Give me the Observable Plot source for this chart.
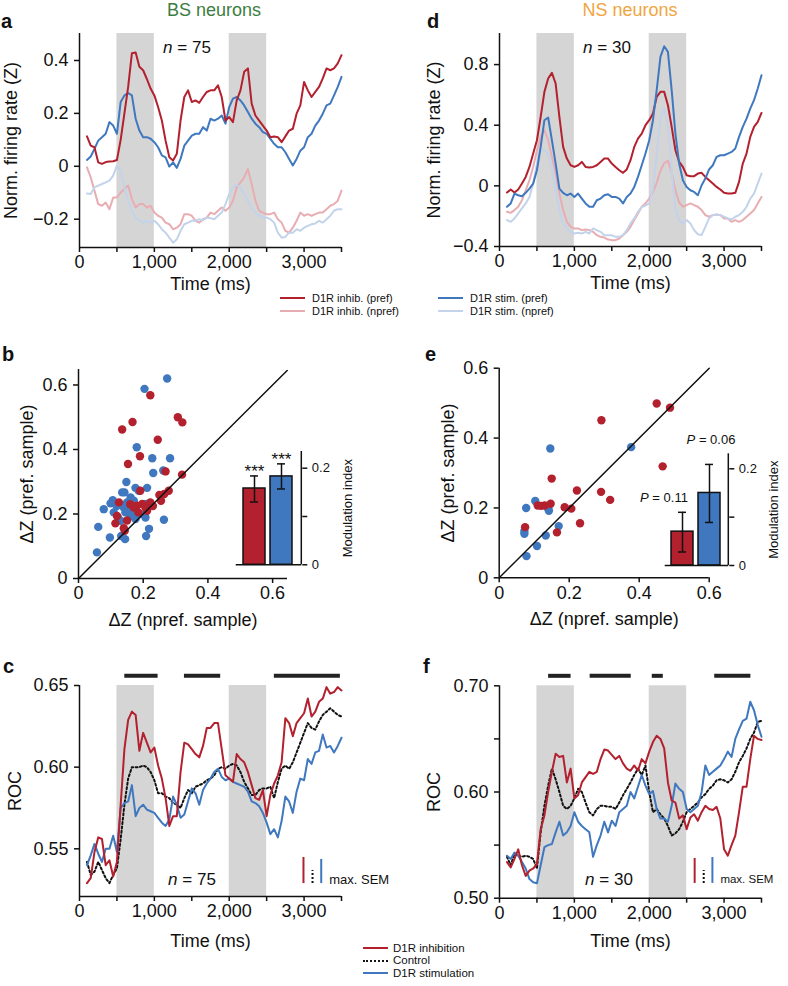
<!DOCTYPE html>
<html><head><meta charset="utf-8">
<script src="https://cdn.jsdelivr.net/npm/d3@7"></script>
<script src="https://cdn.jsdelivr.net/npm/@observablehq/plot@0.6"></script>
<style>
html,body{margin:0;padding:0;background:#fff;}
#fig{position:relative;width:788px;height:986px;font-family:"Liberation Sans",Arial,Helvetica,sans-serif;color:#111;overflow:hidden;background:#fff;}
#fig svg{position:absolute;overflow:visible;}
.t{position:absolute;line-height:1;white-space:nowrap;}
.sw{position:absolute;height:0;}
</style></head><body><div id="fig"></div>
<script>
// ---------------- data ----------------
const times = d3.range(100, 3501, 50);
const stimBands = [[500, 1000], [2000, 2500]];
const timeTicks = [0, 500, 1000, 1500, 2000, 2500, 3000, 3500];

// panel a (BS neurons), normalized firing rate (Z)
const aInhibPref = [0.113,0.078,0.072,0.015,0.009,0.016,0.018,0.019,0.024,0.10,
 0.20,0.30,0.427,0.43,0.376,0.363,0.33,0.294,0.268,0.224,
 0.173,0.097,0.034,0.022,0.047,0.173,0.262,0.287,0.243,0.249,
 0.24,0.262,0.281,0.287,0.287,0.306,0.262,0.173,0.186,0.167,
 0.249,0.287,0.357,0.37,0.237,0.192,0.173,0.154,0.135,0.110,
 0.113,0.110,0.091,0.113,0.135,0.142,0.199,0.23,0.319,0.287,
 0.262,0.281,0.30,0.332,0.37,0.363,0.37,0.389,0.42];
const aStimPref = [0.024,0.037,0.066,0.097,0.110,0.123,0.167,0.154,0.123,0.243,
 0.268,0.277,0.268,0.18,0.135,0.110,0.110,0.104,0.091,0.072,
 0.041,0.034,-0.001,0.015,-0.006,0.028,0.078,0.097,0.116,0.123,
 0.123,0.148,0.135,0.18,0.173,0.18,0.192,0.161,0.224,0.256,
 0.262,0.249,0.23,0.205,0.18,0.161,0.148,0.129,0.123,0.104,
 0.085,0.072,0.072,0.053,0.028,0.003,0.028,0.059,0.072,0.110,
 0.123,0.154,0.173,0.199,0.23,0.237,0.268,0.30,0.338];
const aInhibNpref = [-0.004,-0.042,-0.092,-0.143,-0.149,-0.137,-0.162,-0.118,-0.118,-0.099,
 -0.086,-0.073,-0.124,-0.156,-0.143,-0.143,-0.156,-0.149,-0.175,-0.187,
 -0.194,-0.213,-0.219,-0.238,-0.232,-0.219,-0.181,-0.181,-0.187,-0.206,
 -0.213,-0.2,-0.194,-0.175,-0.181,-0.168,-0.156,-0.168,-0.156,-0.130,
 -0.080,-0.061,-0.042,-0.010,-0.067,-0.130,-0.168,-0.175,-0.181,-0.181,
 -0.175,-0.2,-0.213,-0.244,-0.251,-0.232,-0.206,-0.175,-0.187,-0.181,
 -0.187,-0.181,-0.175,-0.175,-0.162,-0.149,-0.143,-0.130,-0.092];
const aStimNpref = [-0.103,-0.105,-0.080,-0.073,-0.067,-0.061,-0.054,-0.035,0.003,-0.016,
 -0.080,-0.130,-0.168,-0.194,-0.206,-0.213,-0.206,-0.213,-0.206,-0.219,
 -0.238,-0.251,-0.270,-0.289,-0.276,-0.244,-0.219,-0.213,-0.206,-0.206,
 -0.2,-0.204,-0.194,-0.196,-0.2,-0.187,-0.175,-0.143,-0.105,-0.080,
 -0.070,-0.080,-0.105,-0.130,-0.156,-0.175,-0.187,-0.194,-0.194,-0.2,
 -0.213,-0.251,-0.270,-0.267,-0.251,-0.251,-0.238,-0.244,-0.232,-0.225,
 -0.219,-0.216,-0.206,-0.213,-0.2,-0.187,-0.168,-0.162,-0.162];

// panel d (NS neurons)
const dInhibPref = [-0.044,-0.024,-0.044,-0.024,0.015,0.059,0.125,0.213,0.301,0.455,
 0.62,0.708,0.745,0.675,0.455,0.257,0.180,0.136,0.125,0.136,
 0.158,0.125,0.121,0.125,0.136,0.158,0.180,0.180,0.147,0.125,
 0.103,0.086,0.108,0.169,0.257,0.312,0.345,0.40,0.433,0.477,
 0.587,0.62,0.62,0.532,0.389,0.235,0.158,0.125,0.070,0.064,
 0.064,0.081,0.086,0.059,0.037,0.015,-0.007,-0.024,-0.046,-0.051,
 -0.051,-0.046,0.026,0.147,0.213,0.323,0.389,0.422,0.481];
const dStimPref = [-0.138,-0.116,-0.051,-0.062,-0.068,-0.046,-0.018,0.015,0.103,0.257,
 0.433,0.451,0.301,0.147,-0.018,-0.046,-0.062,-0.051,-0.073,-0.051,
 -0.084,-0.116,-0.138,-0.138,-0.095,-0.084,-0.062,-0.055,-0.073,-0.073,
 -0.084,-0.116,-0.073,-0.051,-0.007,0.059,0.136,0.213,0.301,0.433,
 0.631,0.851,0.921,0.884,0.631,0.345,0.147,0.037,-0.007,-0.029,
 -0.040,-0.062,0.004,0.048,0.108,0.136,0.191,0.202,0.202,0.213,
 0.224,0.246,0.323,0.389,0.444,0.51,0.565,0.642,0.730];
const dInhibNpref = [-0.171,-0.178,-0.160,-0.138,-0.095,-0.029,0.037,0.125,0.235,0.323,
 0.367,0.301,0.191,0.081,-0.051,-0.160,-0.237,-0.270,-0.281,-0.281,
 -0.292,-0.288,-0.292,-0.303,-0.325,-0.336,-0.341,-0.354,-0.358,-0.358,
 -0.347,-0.325,-0.303,-0.270,-0.226,-0.182,-0.138,-0.116,-0.084,-0.040,
 0.020,0.100,0.150,0.165,0.090,-0.030,-0.110,-0.138,-0.127,-0.116,
 -0.127,-0.138,-0.160,-0.193,-0.204,-0.193,-0.189,-0.193,-0.215,-0.215,
 -0.237,-0.226,-0.237,-0.226,-0.204,-0.182,-0.160,-0.116,-0.073];
const dStimNpref = [-0.226,-0.237,-0.215,-0.182,-0.149,-0.116,-0.073,0.015,0.147,0.235,
 0.235,0.213,0.103,-0.029,-0.160,-0.248,-0.281,-0.303,-0.314,-0.310,
 -0.314,-0.303,-0.314,-0.281,-0.292,-0.303,-0.325,-0.325,-0.325,-0.336,
 -0.336,-0.325,-0.292,-0.248,-0.215,-0.171,-0.140,-0.130,-0.116,-0.020,
 0.200,0.450,0.510,0.400,0.100,-0.150,-0.230,-0.250,-0.226,-0.248,
 -0.292,-0.319,-0.325,-0.270,-0.215,-0.193,-0.189,-0.193,-0.204,-0.215,
 -0.222,-0.204,-0.193,-0.171,-0.138,-0.084,-0.051,0.015,0.081];

// panel b (BS) scatter: ΔZ npref (x) vs ΔZ pref (y)
const bsInhibX = [0.222,0.307,0.321,0.167,0.135,0.245,0.190,0.153,0.320,0.269,0.279,0.250,0.255,0.222,0.197,0.181,0.171,0.212,0.125,0.119,0.114,0.140,0.143,0.191,0.207,0.160,0.230,0.185,0.150,0.265];
const bsInhibY = [0.568,0.500,0.484,0.485,0.462,0.430,0.379,0.355,0.322,0.332,0.272,0.259,0.241,0.236,0.231,0.226,0.220,0.210,0.236,0.194,0.171,0.156,0.148,0.272,0.220,0.230,0.225,0.205,0.180,0.262];
const bsStimX = [0.274,0.204,0.180,0.228,0.283,0.231,0.262,0.148,0.212,0.176,0.142,0.106,0.099,0.078,0.109,0.122,0.140,0.150,0.161,0.171,0.145,0.161,0.176,0.191,0.209,0.207,0.130,0.218,0.264,0.061,0.097,0.132,0.144,0.209,0.057,0.186,0.135,0.155,0.165,0.118];
const bsStimY = [0.620,0.588,0.407,0.373,0.373,0.327,0.335,0.299,0.281,0.281,0.267,0.243,0.233,0.215,0.205,0.189,0.220,0.236,0.251,0.241,0.205,0.194,0.184,0.200,0.231,0.189,0.179,0.154,0.182,0.160,0.127,0.132,0.122,0.132,0.081,0.272,0.267,0.215,0.200,0.225];
// panel e (NS) scatter
const nsInhibX = [0.450,0.488,0.292,0.467,0.150,0.222,0.291,0.317,0.110,0.130,0.147,0.187,0.206,0.074,0.231,0.165,0.120];
const nsInhibY = [0.499,0.487,0.451,0.319,0.284,0.250,0.246,0.223,0.207,0.207,0.212,0.202,0.198,0.145,0.156,0.130,0.206];
const nsStimX = [0.146,0.377,0.103,0.077,0.142,0.170,0.072,0.072,0.133,0.108,0.078,0.140];
const nsStimY = [0.370,0.374,0.220,0.200,0.192,0.148,0.134,0.126,0.121,0.091,0.062,0.198];

// insets: modulation index (mean, SEM bounds)
const conds = ["D1R inhibition", "D1R stimulation"];
const bsModIdx = [0.158, 0.183], bsModLo = [0.130, 0.157], bsModHi = [0.184, 0.209];
const nsModIdx = [0.070, 0.150], nsModLo = [0.028, 0.089], nsModHi = [0.110, 0.209];
const bsStars = ["***", "***"];

// panel c (BS) ROC
const cInhib = [0.529,0.532,0.548,0.557,0.556,0.540,0.543,0.533,0.542,0.577,
 0.611,0.629,0.634,0.632,0.610,0.621,0.615,0.609,0.612,0.601,
 0.593,0.581,0.564,0.570,0.570,0.597,0.615,0.614,0.611,0.608,
 0.606,0.613,0.624,0.624,0.627,0.627,0.611,0.595,0.593,0.591,
 0.608,0.605,0.603,0.597,0.589,0.581,0.580,0.586,0.570,0.583,
 0.590,0.595,0.603,0.630,0.627,0.619,0.627,0.630,0.633,0.642,
 0.631,0.634,0.640,0.642,0.649,0.645,0.646,0.649,0.647];
const cStim = [0.540,0.546,0.553,0.547,0.542,0.550,0.550,0.558,0.548,0.575,
 0.578,0.579,0.589,0.570,0.575,0.577,0.574,0.573,0.572,0.569,
 0.566,0.564,0.568,0.582,0.577,0.569,0.571,0.579,0.587,0.584,
 0.577,0.586,0.590,0.593,0.597,0.599,0.594,0.592,0.593,0.591,
 0.590,0.589,0.588,0.585,0.579,0.578,0.576,0.572,0.566,0.559,
 0.562,0.557,0.567,0.582,0.579,0.572,0.585,0.593,0.592,0.605,
 0.602,0.609,0.610,0.620,0.612,0.613,0.609,0.613,0.618];
const cCtrl = [0.542,0.534,0.536,0.542,0.537,0.532,0.529,0.534,0.538,0.556,
 0.577,0.593,0.600,0.600,0.600,0.601,0.600,0.597,0.592,0.584,
 0.584,0.582,0.581,0.578,0.577,0.575,0.581,0.586,0.584,0.588,
 0.589,0.590,0.592,0.593,0.595,0.599,0.600,0.599,0.601,0.602,
 0.601,0.597,0.591,0.587,0.583,0.583,0.586,0.587,0.587,0.588,
 0.581,0.591,0.599,0.601,0.599,0.603,0.609,0.615,0.621,0.627,
 0.624,0.623,0.628,0.632,0.634,0.636,0.634,0.632,0.631];
// panel f (NS) ROC
const fInhib = [0.534,0.529,0.537,0.546,0.531,0.521,0.526,0.528,0.532,0.565,
 0.578,0.600,0.619,0.636,0.633,0.634,0.609,0.622,0.594,0.597,
 0.609,0.614,0.619,0.617,0.619,0.631,0.640,0.639,0.635,0.631,
 0.634,0.627,0.622,0.620,0.625,0.620,0.631,0.627,0.638,0.647,
 0.653,0.650,0.641,0.609,0.592,0.590,0.575,0.578,0.565,0.576,
 0.579,0.573,0.581,0.587,0.584,0.583,0.586,0.575,0.546,0.540,
 0.550,0.559,0.581,0.605,0.605,0.631,0.653,0.650,0.649];
const fStim = [0.540,0.537,0.543,0.540,0.534,0.528,0.518,0.515,0.514,0.531,
 0.548,0.550,0.551,0.562,0.572,0.559,0.562,0.568,0.581,0.572,
 0.568,0.565,0.562,0.539,0.550,0.559,0.572,0.562,0.573,0.568,
 0.581,0.584,0.587,0.600,0.594,0.605,0.616,0.606,0.598,0.601,
 0.584,0.575,0.575,0.572,0.587,0.608,0.603,0.600,0.584,0.581,
 0.584,0.587,0.600,0.625,0.616,0.619,0.622,0.625,0.631,0.638,
 0.633,0.650,0.659,0.667,0.669,0.685,0.677,0.663,0.652];
const fCtrl = [0.539,0.531,0.542,0.540,0.539,0.540,0.539,0.537,0.528,0.562,
 0.587,0.606,0.622,0.612,0.600,0.587,0.584,0.587,0.594,0.603,
 0.600,0.590,0.581,0.578,0.584,0.587,0.587,0.586,0.586,0.584,
 0.590,0.597,0.603,0.609,0.616,0.622,0.616,0.625,0.600,0.581,
 0.584,0.579,0.575,0.568,0.559,0.561,0.565,0.572,0.581,0.584,
 0.587,0.590,0.595,0.598,0.603,0.606,0.611,0.612,0.611,0.609,
 0.612,0.619,0.628,0.634,0.641,0.650,0.656,0.666,0.667];

// significance bars (ms) and their level
const sigC = [[605, 1050], [1402, 1886], [2603, 3485]];
const sigF = [[656, 956], [1211, 1760], [2041, 2188], [2875, 3358]];
const sigLevelC = 0.656, sigLevelF = 0.7094;
// max. SEM indicators
const semC = {t: [2992, 3113, 3229], lo: [0.5287, 0.5287, 0.5287], hi: [0.5447, 0.5367, 0.5435]};
const semF = {t: [2607, 2728, 2844], lo: [0.5139, 0.5139, 0.5139], hi: [0.5374, 0.5261, 0.5383]};

// ---------------- style ----------------
const FONT = '"Liberation Sans", Arial, Helvetica, sans-serif';
const RED = "#b3202e", BLUE = "#3f78bf", LRED = "#e8adb2", LBLUE = "#c2d3ea", GRAY = "#d5d5d5", INK = "#111";
const fig = document.getElementById("fig");

const fmtTime = d => d % 1000 === 0 ? d3.format(",")(d) : "";
const fmt1 = d => d === 0 ? "0" : d3.format(".1f")(d);

function place(box, frame, opts, fs = 18) {
  const svg = Plot.plot({
    width: box.w, height: box.h,
    marginLeft: frame.x0 - box.x, marginRight: box.x + box.w - frame.x1,
    marginTop: frame.y0 - box.y, marginBottom: box.y + box.h - frame.y1,
    ...opts,
    style: {fontFamily: FONT, fontSize: fs + "px", background: "transparent", overflow: "visible", color: INK}
  });
  svg.style.position = "absolute";
  svg.style.left = box.x + "px";
  svg.style.top = box.y + "px";
  fig.appendChild(svg);
  return svg;
}

function txt(html, x, base, size, o = {}) {
  const d = document.createElement("div");
  d.className = "t";
  d.innerHTML = html;
  d.style.fontSize = size + "px";
  d.style.left = x + "px";
  d.style.top = (base - 0.8465 * size) + "px";
  if (o.anchor === "middle") d.style.transform = "translateX(-50%)";
  if (o.color) d.style.color = o.color;
  if (o.bold) d.style.fontWeight = "bold";
  fig.appendChild(d);
}
function swatch(x1, x2, y, color, dotted) {
  const d = document.createElement("div");
  d.className = "sw";
  d.style.left = x1 + "px";
  d.style.top = (y - 1) + "px";
  d.style.width = (x2 - x1) + "px";
  d.style.borderTop = `2px ${dotted ? "dotted" : "solid"} ${color}`;
  fig.appendChild(d);
}

function timeAxes(yTicks, yFmt, yLabel, yOff, xOff) {
  return [
    Plot.axisX({ticks: timeTicks, tickFormat: fmtTime, tickSize: 5, tickPadding: 3, strokeWidth: 1.5,
      label: "Time (ms)", labelAnchor: "center", labelOffset: xOff, labelArrow: "none"}),
    Plot.axisY({ticks: yTicks, tickFormat: yFmt, tickSize: 5, tickPadding: 6, strokeWidth: 1.5,
      label: yLabel, labelAnchor: "center", labelOffset: yOff, labelArrow: "none"})
  ];
}
const lw = 2;
const ln = (arr, color, extra = {}) => Plot.lineY(arr, {x: times, stroke: color, strokeWidth: lw, ...extra});

// ---------------- panel a ----------------
const aY = [-0.307, 0.502];
place({x: 0, y: 0, w: 394, h: 300}, {x0: 79, x1: 341, y0: 33, y1: 247}, {
  x: {domain: [0, 3500]}, y: {domain: aY},
  marks: [
    Plot.rect(stimBands, {x1: d => d[0], x2: d => d[1], fill: GRAY}),
    ln(aInhibNpref, LRED), ln(aStimNpref, LBLUE),
    ln(aStimPref, BLUE), ln(aInhibPref, RED),
    Plot.ruleX([0], {strokeWidth: 1.5}), Plot.ruleY([aY[0]], {strokeWidth: 1.5}),
    ...timeAxes([-0.2, 0, 0.2, 0.4], fmt1, "Norm. firing rate (Z)", 75, 42)
  ]
});

// ---------------- panel d ----------------
const dY = [-0.4, 1.005];
place({x: 394, y: 0, w: 394, h: 300}, {x0: 499, x1: 761, y0: 33, y1: 246}, {
  x: {domain: [0, 3500]}, y: {domain: dY},
  marks: [
    Plot.rect(stimBands, {x1: d => d[0], x2: d => d[1], fill: GRAY}),
    ln(dInhibNpref, LRED), ln(dStimNpref, LBLUE),
    ln(dInhibPref, RED), ln(dStimPref, BLUE),
    Plot.ruleX([0], {strokeWidth: 1.5}), Plot.ruleY([dY[0]], {strokeWidth: 1.5}),
    ...timeAxes([-0.4, 0, 0.4, 0.8], fmt1, "Norm. firing rate (Z)", 72, 42)
  ]
});

// ---------------- scatter panels ----------------
function scatter(box, frame, dom, diag, sets) {
  return place(box, frame, {
    x: {domain: [0, dom[0]]}, y: {domain: [0, dom[1]]},
    marks: [
      ...sets.map(([X, Y, c]) => Plot.dot(X, {x: X, y: Y, r: 4.2, fill: c})),
      Plot.line(diag, {x: d => d, y: d => d, stroke: INK, strokeWidth: 1.5}),
      Plot.ruleX([0], {strokeWidth: 1.5}), Plot.ruleY([0], {strokeWidth: 1.5}),
      Plot.axisX({ticks: [0, 0.2, 0.4, 0.6], tickFormat: fmt1, tickSize: 5, tickPadding: 3, strokeWidth: 1.5,
        label: "ΔZ (npref. sample)", labelAnchor: "center", labelOffset: 47, labelArrow: "none"}),
      Plot.axisY({ticks: [0, 0.2, 0.4, 0.6], tickFormat: fmt1, tickSize: 5, tickPadding: 6, strokeWidth: 1.5,
        label: "ΔZ (pref. sample)", labelAnchor: "center", labelOffset: 58, labelArrow: "none"})
    ]
  });
}
scatter({x: 0, y: 330, w: 394, h: 300}, {x0: 78, x1: 287, y0: 369, y1: 578}, [0.646, 0.648], [0, 0.645],
  [[bsStimX, bsStimY, BLUE], [bsInhibX, bsInhibY, RED]]);
scatter({x: 394, y: 330, w: 394, h: 300}, {x0: 498.7, x1: 708.7, y0: 367.7, y1: 577.3}, [0.6, 0.6], [0, 0.6],
  [[nsStimX, nsStimY, BLUE], [nsInhibX, nsInhibY, RED]]);

// ---------------- insets ----------------
function inset(box, frame, ymax, mean, lo, hi, stars, labOff, pad) {
  const rows = conds.map((c, i) => ({cond: c, m: mean[i], lo: lo[i], hi: hi[i], s: stars ? stars[i] : ""}));
  const svg = place(box, frame, {
    x: {type: "band", domain: conds, axis: null, paddingInner: pad[0], paddingOuter: pad[1], align: pad[2]},
    y: {domain: [0, ymax]},
    color: {domain: conds, range: [RED, BLUE]},
    marks: [
      Plot.barY(rows, {x: "cond", y: "m", fill: "cond", stroke: INK, strokeWidth: 1.5}),
      Plot.ruleX(rows, {x: "cond", y1: "lo", y2: "hi", stroke: INK, strokeWidth: 1.5}),
      Plot.tickY(rows, {x: "cond", y: "hi", insetLeft: 7, insetRight: 7, stroke: INK, strokeWidth: 1.5}),
      Plot.tickY(rows, {x: "cond", y: "lo", insetLeft: 7, insetRight: 7, stroke: INK, strokeWidth: 1.5}),
      Plot.ruleY([0], {strokeWidth: 1.5}),
      ...(stars ? [Plot.text(rows, {x: "cond", y: "hi", text: "s", dy: 1, lineAnchor: "bottom", fontSize: 17})] : []),
      Plot.axisY({anchor: "right", ticks: [0, 0.1, 0.2], tickFormat: d => d === 0 ? "0" : d === 0.2 ? "0.2" : "",
        tickSize: 5, tickPadding: 5, strokeWidth: 1.5,
        label: "Modulation index", labelAnchor: "center", labelOffset: labOff, labelArrow: "none"})
    ]
  }, 13);
  d3.select(svg).append("line")
    .attr("x1", frame.x1 - box.x).attr("x2", frame.x1 - box.x)
    .attr("y1", frame.y0 - box.y).attr("y2", frame.y1 - box.y)
    .attr("stroke", INK).attr("stroke-width", 1.5);
}
inset({x: 200, y: 430, w: 170, h: 150}, {x0: 235.7, x1: 301.3, y0: 451, y1: 564.3}, 0.2346,
  bsModIdx, bsModLo, bsModHi, bsStars, 50, [0.2, 0.28, 0.42]);
inset({x: 620, y: 430, w: 168, h: 150}, {x0: 664.7, x1: 728.3, y0: 453.3, y1: 565}, 0.231,
  nsModIdx, nsModLo, nsModHi, null, 49, [0.2, 0.25, 0.4]);

// ---------------- ROC panels ----------------
function roc(box, frame, yDom, yTicks, yFmt, inh, ctrl, stim, sig, sigLevel, sem, semFs, xOff, yOff) {
  place(box, frame, {
    x: {domain: [0, 3500]}, y: {domain: yDom},
    marks: [
      Plot.rect(stimBands, {x1: d => d[0], x2: d => d[1], fill: GRAY}),
      ln(ctrl, INK, {strokeDasharray: "2 2.4", strokeWidth: 2}),
      ln(stim, BLUE), ln(inh, RED),
      Plot.ruleY(sig, {x1: d => d[0], x2: d => d[1], y: sigLevel, stroke: "#222", strokeWidth: 4}),
      Plot.ruleX([0], {x: () => sem.t[0], y1: () => sem.lo[0], y2: () => sem.hi[0], stroke: RED, strokeWidth: 2}),
      Plot.ruleX([0], {x: () => sem.t[1], y1: () => sem.lo[1], y2: () => sem.hi[1], stroke: INK, strokeWidth: 2, strokeDasharray: "2 2"}),
      Plot.ruleX([0], {x: () => sem.t[2], y1: () => sem.lo[2], y2: () => sem.hi[2], stroke: BLUE, strokeWidth: 2}),
      Plot.text(["max. SEM"], {x: sem.t[2], y: sem.lo[2], dx: 8, textAnchor: "start", lineAnchor: "bottom", fontSize: semFs}),
      Plot.ruleX([0], {strokeWidth: 1.5}), Plot.ruleY([yDom[0]], {strokeWidth: 1.5}),
      ...timeAxes(yTicks, yFmt, "ROC", yOff, xOff)
    ]
  });
}
roc({x: 0, y: 640, w: 394, h: 320}, {x0: 79, x1: 341, y0: 685, y1: 896}, [0.5208, 0.65], [0.55, 0.60, 0.65],
  d => d3.format(".2f")(d), cInhib, cCtrl, cStim, sigC, sigLevelC, semC, 13, 50, 71);
roc({x: 394, y: 640, w: 394, h: 320}, {x0: 499, x1: 761, y0: 685.3, y1: 897.7}, [0.5, 0.7], [0.5, 0.55, 0.6, 0.65, 0.7],
  d => Math.round(d * 100) % 10 === 0 ? d3.format(".2f")(d) : "", fInhib, fCtrl, fStim, sigF, sigLevelF, semF, 11.5, 49, 72);

// ---------------- text annotations ----------------
txt("BS neurons", 214, 16, 18, {anchor: "middle", color: "#3d7d3f"});
txt("NS neurons", 630, 16, 18, {anchor: "middle", color: "#f0a541"});
txt("a", 1, 28, 20, {bold: true});
txt("d", 427, 28, 20, {bold: true});
txt("b", 2, 361, 20, {bold: true});
txt("e", 425, 361, 20, {bold: true});
txt("c", 3, 673, 20, {bold: true});
txt("f", 423, 673, 20, {bold: true});
txt("<i>n</i> = 75", 187, 53.5, 17, {anchor: "middle"});
txt("<i>n</i> = 30", 607, 53.5, 17, {anchor: "middle"});
txt("<i>n</i> = 75", 192, 885, 17, {anchor: "middle"});
txt("<i>n</i> = 30", 609, 885, 17, {anchor: "middle"});
txt("<i>P</i> = 0.11", 664, 502.5, 13, {anchor: "middle"});
txt("<i>P</i> = 0.06", 711, 444.5, 13, {anchor: "middle"});

// legend (top)
swatch(280, 305, 298, RED); txt("D1R inhib. (pref)", 312, 302, 11);
swatch(280, 305, 311, LRED); txt("D1R inhib. (npref)", 312, 315, 11);
swatch(438, 463, 298, BLUE); txt("D1R stim. (pref)", 470, 302, 11);
swatch(438, 463, 311, LBLUE); txt("D1R stim. (npref)", 470, 315, 11);
// legend (bottom)
swatch(363, 388, 948, RED); txt("D1R inhibition", 393, 952.3, 11.5);
swatch(363, 388, 960.5, INK, true); txt("Control", 393, 964.8, 11.5);
swatch(363, 388, 973, BLUE); txt("D1R stimulation", 393, 977.3, 11.5);
</script></body></html>
